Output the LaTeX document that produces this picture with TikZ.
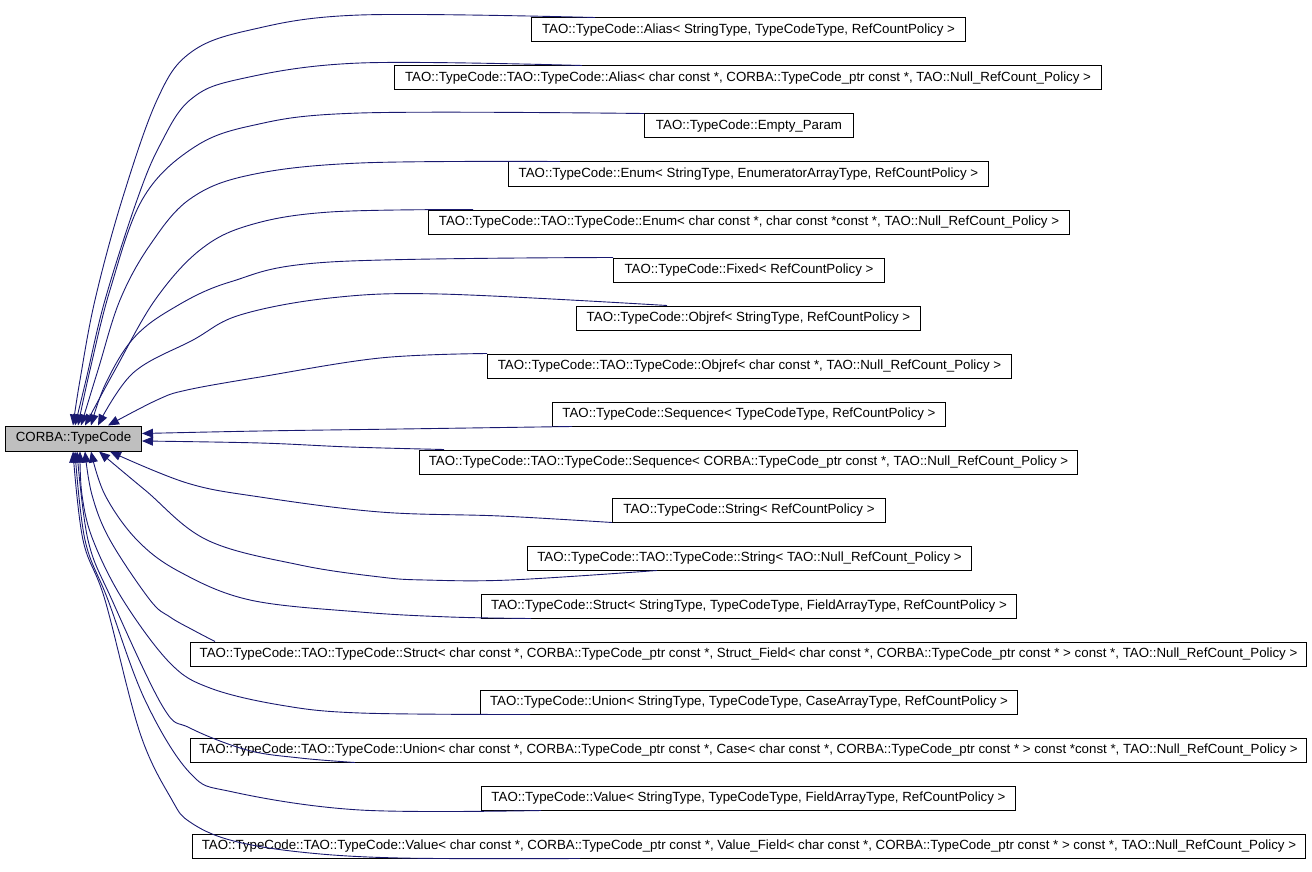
\documentclass[tikz,border=0pt]{standalone}
\usepackage{fontspec}
\setmainfont{Liberation Sans}
\usetikzlibrary{arrows.meta}
\definecolor{edgeblue}{HTML}{191970}
\definecolor{basegray}{HTML}{BFBFBF}
\begin{document}
\begin{tikzpicture}[
        x=1pt,y=-1pt,
        cls/.style={draw=black, fill=white, line width=1pt, anchor=west,
            inner sep=0pt, minimum height=24pt, font=\fontsize{13.3}{16}\selectfont},
        inh/.style={draw=edgeblue, line width=0.9pt,
            -{Triangle[length=11pt,width=9pt,fill=edgeblue]}},
    ]
  \useasboundingbox (0,0) rectangle (1312,872);
  % base class
  \node[cls, fill=basegray, minimum width=136pt, minimum height=25pt] (base) at (5,438.5) {CORBA::TypeCode};
  % derived classes
  \node[cls, minimum width=434pt]  (alias)     at (531,30)  {TAO::TypeCode::Alias< StringType, TypeCodeType, RefCountPolicy >};
  \node[cls, minimum width=707pt]  (aliasnull) at (394,78)  {TAO::TypeCode::TAO::TypeCode::Alias< char const *, CORBA::TypeCode\_ptr const *, TAO::Null\_RefCount\_Policy >};
  \node[cls, minimum width=209pt]  (empty)     at (644,126) {TAO::TypeCode::Empty\_Param};
  \node[cls, minimum width=480pt]  (enum)      at (508,174) {TAO::TypeCode::Enum< StringType, EnumeratorArrayType, RefCountPolicy >};
  \node[cls, minimum width=641pt]  (enumnull)  at (428,222) {TAO::TypeCode::TAO::TypeCode::Enum< char const *, char const *const *, TAO::Null\_RefCount\_Policy >};
  \node[cls, minimum width=271pt]  (fixed)     at (613,270) {TAO::TypeCode::Fixed< RefCountPolicy >};
  \node[cls, minimum width=344pt]  (objref)    at (576,318) {TAO::TypeCode::Objref< StringType, RefCountPolicy >};
  \node[cls, minimum width=524pt]  (objrefnull) at (487,366) {TAO::TypeCode::TAO::TypeCode::Objref< char const *, TAO::Null\_RefCount\_Policy >};
  \node[cls, minimum width=393pt]  (seq)       at (552,414) {TAO::TypeCode::Sequence< TypeCodeType, RefCountPolicy >};
  \node[cls, minimum width=658pt]  (seqnull)   at (419,462) {TAO::TypeCode::TAO::TypeCode::Sequence< CORBA::TypeCode\_ptr const *, TAO::Null\_RefCount\_Policy >};
  \node[cls, minimum width=273pt]  (str)       at (612,510) {TAO::TypeCode::String< RefCountPolicy >};
  \node[cls, minimum width=444pt]  (strnull)   at (527,558) {TAO::TypeCode::TAO::TypeCode::String< TAO::Null\_RefCount\_Policy >};
  \node[cls, minimum width=535pt]  (struct)    at (481,606) {TAO::TypeCode::Struct< StringType, TypeCodeType, FieldArrayType, RefCountPolicy >};
  \node[cls, minimum width=1116pt] (structnull) at (190,654) {TAO::TypeCode::TAO::TypeCode::Struct< char const *, CORBA::TypeCode\_ptr const *, Struct\_Field< char const *, CORBA::TypeCode\_ptr const * > const *, TAO::Null\_RefCount\_Policy >};
  \node[cls, minimum width=537pt]  (union)     at (480,702) {TAO::TypeCode::Union< StringType, TypeCodeType, CaseArrayType, RefCountPolicy >};
  \node[cls, minimum width=1116pt] (unionnull) at (190,750) {TAO::TypeCode::TAO::TypeCode::Union< char const *, CORBA::TypeCode\_ptr const *, Case< char const *, CORBA::TypeCode\_ptr const * > const *const *, TAO::Null\_RefCount\_Policy >};
  \node[cls, minimum width=534pt]  (value)     at (481,798) {TAO::TypeCode::Value< StringType, TypeCodeType, FieldArrayType, RefCountPolicy >};
  \node[cls, minimum width=1113pt] (valuenull) at (192,846) {TAO::TypeCode::TAO::TypeCode::Value< char const *, CORBA::TypeCode\_ptr const *, Value\_Field< char const *, CORBA::TypeCode\_ptr const * > const *, TAO::Null\_RefCount\_Policy >};
  % inheritance edges, upper half
  \draw[inh] plot[smooth, tension=0.6] coordinates {([xshift=64pt]alias.north west) (360,15) (250,30) (190,53) (157,100) (122,200) (95,300) (80,380) ([xshift=68pt]base.north west)};
  \draw[inh] plot[smooth, tension=0.6] coordinates {([xshift=188pt]aliasnull.north west) (360,63) (240,79) (190,100) (160,145) (137,200) (105,300) (86,380) ([xshift=70pt]base.north west)};
  \draw[inh] plot[smooth, tension=0.6] coordinates {(empty.north west) (360,113) (250,126) (190,150) (142,200) (110,290) (90,370) ([xshift=73pt]base.north west)};
  \draw[inh] plot[smooth, tension=0.6] coordinates {([xshift=52pt]enum.north west) (360,163) (250,175) (190,199) (150,245) (120,300) (98,370) ([xshift=76pt]base.north west)};
  \draw[inh] plot[smooth, tension=0.6] coordinates {([xshift=45pt]enumnull.north west) (330,212) (250,225) (200,250) (155,300) (115,370) ([xshift=80pt]base.north west)};
  \draw[inh] plot[smooth, tension=0.6] coordinates {(fixed.north west) (330,262) (230,282) (170,310) (132,340) (105,385) ([xshift=86pt]base.north west)};
  \draw[inh] plot[smooth, tension=0.6] coordinates {([xshift=91pt]objref.north west) (440,294) (330,298) (240,315) (193,340) (133,373) ([xshift=93pt]base.north west)};
  \draw[inh] plot[smooth, tension=0.6] coordinates {(objrefnull.north west) (380,358) (260,377) (187,390) (157,400) ([xshift=103pt]base.north west)};
  % right side
  \draw[inh] plot[smooth, tension=0.6] coordinates {([xshift=20pt]seq.south west) (400,429) (260,431) ([yshift=5pt]base.east)};
  \draw[inh] plot[smooth, tension=0.6] coordinates {([xshift=25pt]seqnull.north west) (350,447) (260,443) ([yshift=-2.5pt]base.east)};
  % lower half
  \draw[inh] plot[smooth, tension=0.6] coordinates {(str.south west) (500,516) (380,512) (260,497) (187,483) ([xshift=105pt]base.south west)};
  \draw[inh] plot[smooth, tension=0.6] coordinates {([xshift=130pt]strnull.south west) (510,580) (425,580) (380,577) (300,565) (207,540) (145,490) ([xshift=94pt]base.south west)};
  \draw[inh] plot[smooth, tension=0.6] coordinates {([xshift=50pt]struct.south west) (450,617) (360,612) (250,600) (180,572) (137,540) (105,495) ([xshift=86pt]base.south west)};
  \draw[inh] plot[smooth, tension=0.6] coordinates {([xshift=25pt]structnull.north west) (193,630) (170,617) (150,600) (110,540) (92,495) ([xshift=80pt]base.south west)};
  \draw[inh] plot[smooth, tension=0.6] coordinates {([xshift=50pt]union.south west) (360,713) (280,705) (210,688) (170,663) (123,600) (93,540) (82,495) ([xshift=75pt]base.south west)};
  \draw[inh] plot[smooth, tension=0.6] coordinates {([xshift=165pt]unionnull.south west) (300,758) (247,750) (190,728) (163,707) (112,600) (88,540) ([xshift=72pt]base.south west)};
  \draw[inh] plot[smooth, tension=0.6] coordinates {([xshift=60pt]value.south west) (360,810) (233,792) (190,773) (145,700) (108,600) (85,540) ([xshift=70pt]base.south west)};
  \draw[inh] plot[smooth, tension=0.6] coordinates {([xshift=388pt]valuenull.south west) (400,858) (300,852) (230,840) (190,822) (172,800) (140,733) (105,600) (83,540) ([xshift=68pt]base.south west)};
\end{tikzpicture}
\end{document}
